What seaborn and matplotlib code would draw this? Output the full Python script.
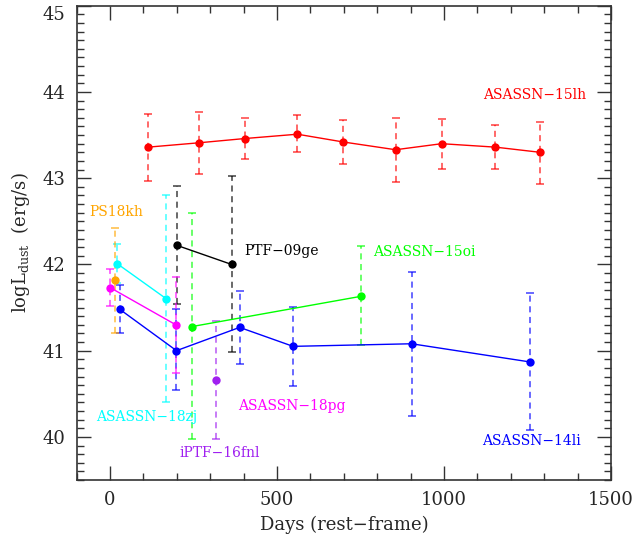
import matplotlib
matplotlib.use('Agg')
import matplotlib.pyplot as plt
from matplotlib.ticker import MultipleLocator
import seaborn as sns
import pandas as pd

# values (days rest-frame, logL, upper / lower error bounds)
lh15_days = [114, 265, 404, 561, 698, 855, 993, 1154, 1288]
lh15_logl = [43.36, 43.41, 43.46, 43.51, 43.42, 43.33, 43.40, 43.36, 43.30]
lh15_up = [43.75, 43.77, 43.70, 43.73, 43.68, 43.70, 43.69, 43.62, 43.65]
lh15_lo = [42.97, 43.05, 43.22, 43.30, 43.16, 42.96, 43.11, 43.11, 42.93]

li14_days = [29, 199, 388, 548, 903, 1256]
li14_logl = [41.48, 41.00, 41.27, 41.05, 41.08, 40.87]
li14_up = [41.76, 41.48, 41.69, 41.51, 41.91, 41.67]
li14_lo = [41.20, 40.54, 40.85, 40.59, 40.24, 40.08]

oi15_days = [246, 751]
oi15_logl = [41.28, 41.63]
oi15_up = [42.60, 42.21]
oi15_lo = [39.97, 41.06]

ge09_days = [201, 364]
ge09_logl = [42.22, 42.00]
ge09_up = [42.91, 43.03]
ge09_lo = [41.54, 40.98]

zj18_days = [21, 169]
zj18_logl = [42.01, 41.60]
zj18_up = [42.24, 42.80]
zj18_lo = [41.78, 40.41]

pg18_days = [1, 197]
pg18_logl = [41.73, 41.30]
pg18_up = [41.95, 41.86]
pg18_lo = [41.52, 40.74]

kh18_days = [15]
kh18_logl = [41.82]
kh18_up = [42.42]
kh18_lo = [41.21]

fnl16_days = [316]
fnl16_logl = [40.66]
fnl16_up = [41.34]
fnl16_lo = [39.98]

names = ['ASASSN\u221215lh', 'ASASSN\u221214li', 'ASASSN\u221215oi', 'PTF\u221209ge',
         'ASASSN\u221218zj', 'ASASSN\u221218pg', 'PS18kh', 'iPTF\u221216fnl']
colors = ['#ff0000', '#0000ff', '#00ff00', '#000000',
          '#00ffff', '#ff00ff', '#ffa500', '#a020f0']
series = [
    (lh15_days, lh15_logl, lh15_up, lh15_lo),
    (li14_days, li14_logl, li14_up, li14_lo),
    (oi15_days, oi15_logl, oi15_up, oi15_lo),
    (ge09_days, ge09_logl, ge09_up, ge09_lo),
    (zj18_days, zj18_logl, zj18_up, zj18_lo),
    (pg18_days, pg18_logl, pg18_up, pg18_lo),
    (kh18_days, kh18_logl, kh18_up, kh18_lo),
    (fnl16_days, fnl16_logl, fnl16_up, fnl16_lo),
]

# where the names are written (data coords)
label_pos = {
    'ASASSN\u221215lh': (1117, 43.97),
    'ASASSN\u221214li': (1115, 39.95),
    'ASASSN\u221215oi': (788, 42.14),
    'PTF\u221209ge': (401, 42.15),
    'ASASSN\u221218zj': (-41, 40.23),
    'ASASSN\u221218pg': (382, 40.36),
    'PS18kh': (-61, 42.61),
    'iPTF\u221216fnl': (209, 39.81),
}

sns.set_style('ticks')
plt.rcParams['font.family'] = ['DejaVu Serif']
plt.rcParams['mathtext.fontset'] = 'dejavuserif'

fig = plt.figure(figsize=(6.37, 5.44), dpi=100)
ax = fig.add_axes([0.1203, 0.1176, 0.9592 - 0.1203, 0.9895 - 0.1176])

for name, c, (d, v, up, lo) in zip(names, colors, series):
    df = pd.DataFrame({'day': d, 'logL': v})
    err = [[a - b for a, b in zip(v, lo)], [a - b for a, b in zip(up, v)]]
    eb = ax.errorbar(d, v, yerr=err, fmt='none', ecolor=c, elinewidth=1.1,
                     capsize=3, capthick=1.1, alpha=0.75)
    eb[2][0].set_linestyle((0, (4, 3)))
    sns.lineplot(data=df, x='day', y='logL', color=c, marker='o', markersize=6,
                 markeredgewidth=0, linewidth=1.0, sort=False, ax=ax, zorder=3)
    tx, ty = label_pos[name]
    ax.text(tx, ty, name, color=c, fontsize=10, va='center', ha='left')

ax.set_xlim(-100, 1500)
ax.set_ylim(39.5, 45)
ax.xaxis.set_major_locator(MultipleLocator(500))
ax.xaxis.set_minor_locator(MultipleLocator(100))
ax.set_yticks([40, 41, 42, 43, 44, 45])
ax.yaxis.set_minor_locator(MultipleLocator(0.1))
ax.tick_params(which='both', direction='in', top=True, right=True, labelsize=13,
               width=1, color='#333333')
ax.tick_params(which='major', length=10, pad=8)
ax.tick_params(which='minor', length=5)
for s in ax.spines.values():
    s.set_linewidth(1.2)
    s.set_color('#333333')

# top label sits just under the frame, as in the original
ax.yaxis.get_major_ticks()[-1].label1.set_verticalalignment('top')

ax.set_xlabel('Days (rest\u2212frame)', fontsize=13, labelpad=5)
ax.set_ylabel(r'$\mathrm{logL_{dust}}$  (erg/s)', fontsize=13, labelpad=8)

plt.savefig('out.png', dpi=100)
plt.close()
